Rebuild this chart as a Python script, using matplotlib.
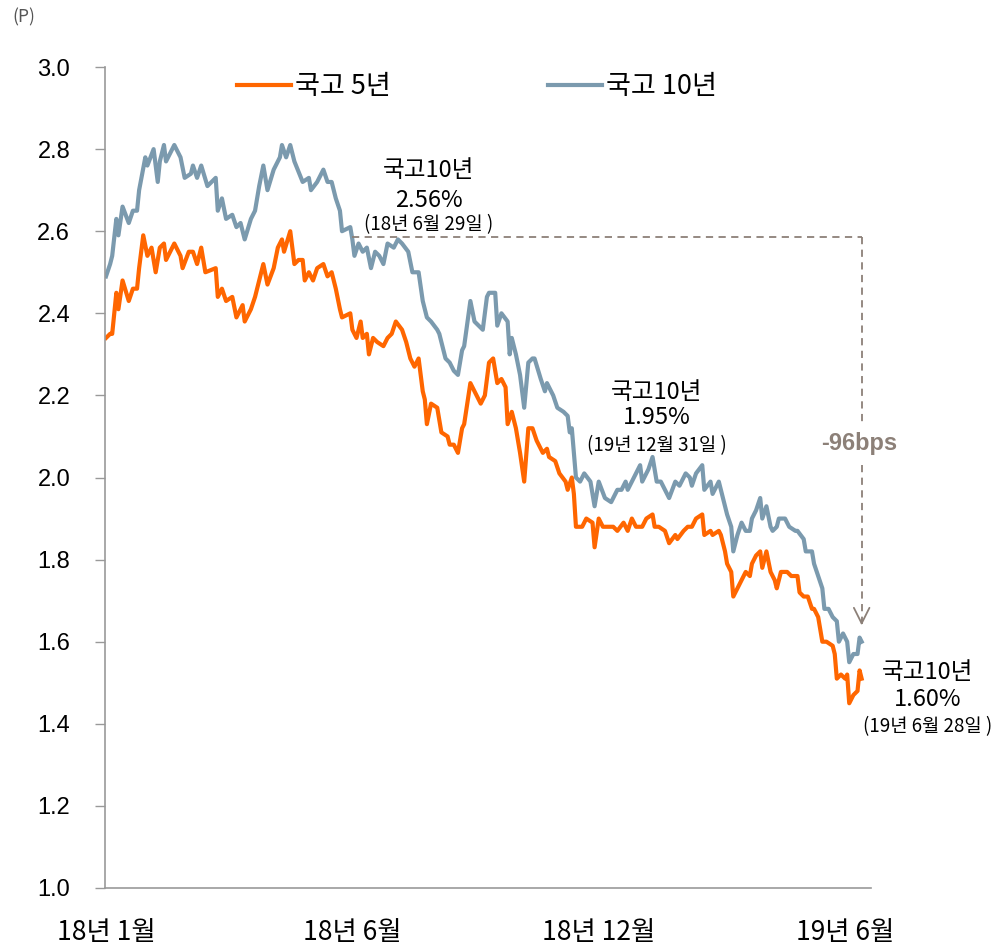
import matplotlib
matplotlib.use('Agg')
import matplotlib.pyplot as plt

plt.rcParams['font.family'] = ['Noto Sans CJK KR', 'DejaVu Sans']

# trading-day index (0 = 2018-01-02, 365 = 2019-06-28) and yields (%)
day_10y = [0, 2, 3, 5, 6, 8, 11, 13, 15, 16, 19, 20, 23, 25, 26, 28, 29, 33, 36, 38,
           41, 42, 44, 46, 49, 53, 54, 56, 58, 61, 63, 65, 67, 70, 72, 74, 76, 78, 81, 84,
           85, 87, 89, 91, 95, 98, 99, 102, 105, 107, 109, 111, 113, 114, 118, 119, 120, 122, 124, 126,
           128, 130, 132, 134, 136, 139, 141, 143, 146, 148, 151, 153, 155, 157, 160, 161, 164, 166, 168, 170,
           172, 173, 176, 178, 182, 184, 185, 188, 189, 191, 194, 195, 196, 198, 200, 202, 204, 206, 207, 210,
           212, 213, 216, 218, 221, 223, 224, 225, 227, 229, 231, 234, 236, 238, 241, 244, 247, 249, 251, 252,
           254, 256, 258, 259, 262, 264, 266, 268, 271, 272, 275, 277, 280, 282, 283, 285, 288, 289, 292, 293,
           296, 297, 299, 300, 302, 303, 305, 307, 309, 311, 312, 314, 316, 317, 319, 321, 322, 324, 325, 328,
           330, 333, 334, 337, 338, 341, 342, 344, 346, 347, 349, 351, 353, 354, 356, 358, 359, 361, 363, 364, 365]
yield_10y = [2.49, 2.52, 2.54, 2.63, 2.59, 2.66, 2.62, 2.65, 2.65, 2.70, 2.78, 2.76, 2.80, 2.72, 2.77, 2.81, 2.77, 2.81, 2.78, 2.73,
             2.74, 2.76, 2.73, 2.76, 2.71, 2.73, 2.65, 2.68, 2.63, 2.64, 2.61, 2.62, 2.58, 2.63, 2.65, 2.71, 2.76, 2.70, 2.75, 2.78,
             2.81, 2.78, 2.81, 2.77, 2.72, 2.73, 2.70, 2.72, 2.75, 2.72, 2.72, 2.68, 2.65, 2.60, 2.61, 2.58, 2.54, 2.57, 2.55, 2.56,
             2.51, 2.55, 2.54, 2.52, 2.57, 2.56, 2.58, 2.57, 2.55, 2.50, 2.50, 2.43, 2.39, 2.38, 2.36, 2.35, 2.29, 2.28, 2.26, 2.25,
             2.31, 2.32, 2.43, 2.38, 2.36, 2.44, 2.45, 2.45, 2.37, 2.40, 2.38, 2.30, 2.34, 2.30, 2.25, 2.17, 2.28, 2.29, 2.29, 2.24,
             2.21, 2.23, 2.20, 2.17, 2.16, 2.15, 2.11, 2.12, 2.00, 1.99, 2.01, 1.99, 1.93, 1.99, 1.95, 1.94, 1.97, 1.97, 1.99, 1.97,
             1.99, 2.01, 2.03, 1.99, 2.02, 2.05, 1.99, 1.99, 1.96, 1.95, 1.99, 1.98, 2.01, 2.00, 1.98, 2.01, 2.03, 1.97, 1.99, 1.96,
             1.99, 1.97, 1.93, 1.91, 1.88, 1.82, 1.86, 1.89, 1.87, 1.87, 1.90, 1.92, 1.95, 1.90, 1.93, 1.88, 1.87, 1.88, 1.90, 1.90,
             1.88, 1.87, 1.87, 1.85, 1.82, 1.82, 1.79, 1.76, 1.73, 1.68, 1.68, 1.66, 1.65, 1.60, 1.62, 1.60, 1.55, 1.57, 1.57, 1.61, 1.60]

day_5y = [0, 2, 3, 5, 6, 8, 11, 13, 15, 16, 18, 20, 22, 24, 26, 28, 29, 33, 36, 37,
          40, 42, 44, 46, 48, 53, 54, 56, 58, 61, 63, 66, 67, 70, 72, 74, 76, 78, 81, 83,
          85, 86, 89, 91, 93, 95, 96, 98, 100, 102, 105, 107, 109, 111, 113, 114, 118, 119, 121, 123,
          124, 126, 127, 129, 131, 134, 136, 138, 140, 143, 145, 147, 149, 151, 153, 154, 155, 157, 160, 162,
          165, 166, 168, 170, 172, 173, 176, 178, 181, 183, 185, 187, 189, 191, 193, 194, 196, 198, 200, 202,
          204, 206, 208, 211, 213, 214, 217, 219, 222, 223, 225, 226, 227, 230, 232, 235, 236, 238, 240, 242,
          245, 247, 250, 252, 254, 256, 259, 261, 264, 265, 267, 270, 272, 275, 276, 279, 281, 283, 285, 288,
          289, 292, 293, 296, 297, 299, 300, 302, 303, 305, 307, 309, 311, 312, 314, 316, 317, 319, 321, 323,
          324, 326, 329, 331, 334, 335, 337, 339, 341, 342, 344, 346, 348, 351, 352, 353, 355, 357, 358, 359,
          361, 363, 364, 365]
yield_5y = [2.34, 2.35, 2.35, 2.45, 2.41, 2.48, 2.43, 2.46, 2.46, 2.51, 2.59, 2.54, 2.56, 2.50, 2.56, 2.57, 2.53, 2.57, 2.54, 2.51,
            2.55, 2.55, 2.52, 2.56, 2.50, 2.51, 2.44, 2.46, 2.43, 2.44, 2.39, 2.42, 2.38, 2.41, 2.44, 2.48, 2.52, 2.47, 2.51, 2.56,
            2.58, 2.55, 2.60, 2.52, 2.53, 2.53, 2.48, 2.50, 2.48, 2.51, 2.52, 2.49, 2.50, 2.46, 2.41, 2.39, 2.40, 2.36, 2.34, 2.38,
            2.34, 2.35, 2.30, 2.34, 2.33, 2.32, 2.34, 2.35, 2.38, 2.36, 2.33, 2.29, 2.27, 2.29, 2.21, 2.19, 2.13, 2.18, 2.17, 2.11,
            2.10, 2.08, 2.08, 2.06, 2.12, 2.13, 2.23, 2.21, 2.18, 2.20, 2.28, 2.29, 2.23, 2.24, 2.22, 2.13, 2.16, 2.12, 2.06, 1.99,
            2.12, 2.12, 2.09, 2.06, 2.07, 2.05, 2.04, 2.01, 1.99, 1.97, 2.00, 1.96, 1.88, 1.88, 1.90, 1.89, 1.83, 1.90, 1.88, 1.88,
            1.88, 1.87, 1.89, 1.87, 1.90, 1.88, 1.88, 1.90, 1.91, 1.88, 1.88, 1.87, 1.84, 1.86, 1.85, 1.87, 1.88, 1.88, 1.90, 1.91,
            1.86, 1.87, 1.86, 1.87, 1.86, 1.82, 1.79, 1.77, 1.71, 1.73, 1.75, 1.77, 1.76, 1.79, 1.81, 1.82, 1.78, 1.82, 1.77, 1.75,
            1.73, 1.77, 1.77, 1.76, 1.76, 1.72, 1.71, 1.71, 1.68, 1.68, 1.66, 1.60, 1.60, 1.59, 1.57, 1.51, 1.52, 1.51, 1.52, 1.45,
            1.47, 1.48, 1.53, 1.51]

tick_days = [0, 119, 238, 357]
tick_labels = ['18년 1월', '18년 6월', '18년 12월', '19년 6월']

orange = '#FF6600'
blue = '#7B9AAE'
note_col = '#8C8078'

fig = plt.figure(figsize=(9.92, 9.48), dpi=100)
ax = fig.add_axes([0.1058, 0.0633, 0.7722, 0.866])

ln5, = ax.plot(day_5y, yield_5y, color=orange, lw=3, label='국고 5년', solid_joinstyle='round')
ln10, = ax.plot(day_10y, yield_10y, color=blue, lw=3, label='국고 10년', solid_joinstyle='round')

ax.set_xlim(-0.5, 369.5)
ax.set_ylim(1.0, 3.0)
ax.set_yticks([1.0, 1.2, 1.4, 1.6, 1.8, 2.0, 2.2, 2.4, 2.6, 2.8, 3.0])
ax.set_yticklabels([f'{v:.1f}' for v in ax.get_yticks()], family='Liberation Sans', fontsize=17)
ax.set_xticks(tick_days)
ax.set_xticklabels(tick_labels, fontsize=19)
ax.tick_params(axis='x', length=0, pad=22)
ax.tick_params(axis='y', length=7, width=1, color='#999999', pad=18)
for s in ['top', 'right']:
    ax.spines[s].set_visible(False)
for s in ['left', 'bottom']:
    ax.spines[s].set_color('#999999')
    ax.spines[s].set_linewidth(1.2)

ax.legend(handles=[ln5, ln10], ncol=2, loc='center left', bbox_to_anchor=(0.172, 0.976),
          frameon=False, fontsize=19.5, handlelength=2.0, handletextpad=0.15,
          columnspacing=5.8, borderaxespad=0, borderpad=0)

# dashed guide from 2018-06-29 level down to the last point
ax.plot([119, 365], [2.585, 2.585], ls=(0, (4, 3)), color=note_col, lw=1.3)
ax.plot([365, 365], [2.585, 2.13], ls=(0, (4, 3)), color=note_col, lw=1.3)
ax.plot([365, 365], [2.03, 1.64], ls=(0, (4, 3)), color=note_col, lw=1.3)
ax.annotate('', xy=(365, 1.633), xytext=(365, 1.66),
            arrowprops=dict(arrowstyle='->', color=note_col, lw=1.3, mutation_scale=28))
ax.text(364, 2.084, '-96bps', ha='center', va='center', fontsize=17, fontweight='bold',
        color=note_col, family='Liberation Sans')

notes = [
    (156, 2.749, 2.676, 2.615, '2.56%', '(18년 6월 29일 )'),
    (266, 2.208, 2.145, 2.077, '1.95%', '(19년 12월 31일 )'),
    (397, 1.526, 1.458, 1.392, '1.60%', '(19년 6월 28일 )'),
]
for x, y1, y2, y3, pct, date in notes:
    ax.text(x, y1, '국고10년', ha='center', va='center', fontsize=17)
    ax.text(x, y2, pct, ha='center', va='center', fontsize=17)
    ax.text(x, y3, date, ha='center', va='center', fontsize=13.5)

fig.text(0.012, 0.982, '(P)', fontsize=12.5, color='#555555', va='center', ha='left')

plt.savefig('out.png', dpi=100)
